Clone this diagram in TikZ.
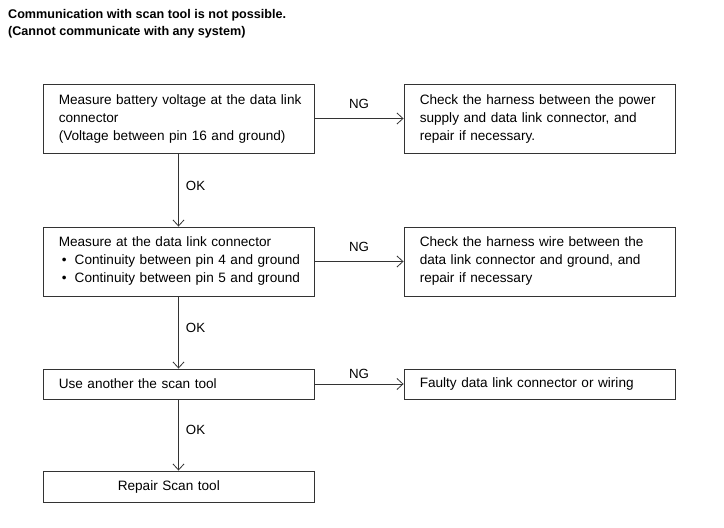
\documentclass[tikz,border=0pt]{standalone}
\usepackage{fontspec}
\setmainfont{Liberation Sans}
\usetikzlibrary{arrows.meta}
\begin{document}
\begin{tikzpicture}[x=1pt,y=-1pt,
  box/.style={draw=black!80,line width=0.9pt,minimum width=271pt,inner sep=0pt},
  txt/.style={anchor=west,inner sep=0pt,text width=252pt,align=left,font=\fontsize{13.6}{18}\selectfont},
  conn/.style={draw=black!80,line width=0.9pt,-{Straight Barb[length=6pt,width=11pt,line width=0.8pt]}},
  lbl/.style={font=\fontsize{13.3}{16}\selectfont,inner sep=0pt}]
\useasboundingbox (0,0) rectangle (724,528);
\node[anchor=north west,inner sep=0pt,align=left,font=\bfseries\fontsize{12.6}{17}\selectfont] (title) at (8,9)
  {Communication with scan tool is not possible.\\(Cannot communicate with any system)};
\node[box,minimum height=69pt] (b1) at (178.5,118.5) {};
\node[box,minimum height=69pt] (r1) at (539.5,118.5) {};
\node[box,minimum height=69pt] (b2) at (178.5,261.5) {};
\node[box,minimum height=69pt] (r2) at (539.5,261.5) {};
\node[box,minimum height=30pt] (b3) at (178.5,384) {};
\node[box,minimum height=30pt] (r3) at (539.5,384) {};
\node[box,minimum height=31pt] (b4) at (178.5,486.5) {};
\node[txt] (t1) at ([xshift=16pt]b1.west)
  {Measure battery voltage at the data link\\connector\\(Voltage between pin 16 and ground)};
\node[txt] (s1) at ([xshift=16pt]r1.west)
  {Check the harness between the power\\supply and data link connector, and\\repair if necessary.};
\node[txt] (t2) at ([xshift=16pt,yshift=1pt]b2.west)
  {Measure at the data link connector\\
   \makebox[16pt][l]{\hspace{3pt}•}Continuity between pin 4 and ground\\
   \makebox[16pt][l]{\hspace{3pt}•}Continuity between pin 5 and ground};
\node[txt] (s2) at ([xshift=16pt,yshift=1pt]r2.west)
  {Check the harness wire between the\\data link connector and ground, and\\repair if necessary};
\node[txt] (t3) at ([xshift=16pt]b3.west) {Use another the scan tool};
\node[txt] (s3) at ([xshift=16pt]r3.west) {Faulty data link connector or wiring};
\node[txt] (t4) at ([xshift=75pt]b4.west) {Repair Scan tool};
\draw[conn] (b1) -- (r1) node[lbl,midway,above=9pt] {NG};
\draw[conn] (b2) -- (r2) node[lbl,midway,above=9pt] {NG};
\draw[conn] (b3) -- (r3) node[lbl,midway,above=5pt] {NG};
\draw[conn] (b1) -- (b2) node[lbl,midway,right=7pt,yshift=4pt] {OK};
\draw[conn] (b2) -- (b3) node[lbl,midway,right=7pt,yshift=5pt] {OK};
\draw[conn] (b3) -- (b4) node[lbl,midway,right=7pt,yshift=5pt] {OK};
\end{tikzpicture}
\end{document}
